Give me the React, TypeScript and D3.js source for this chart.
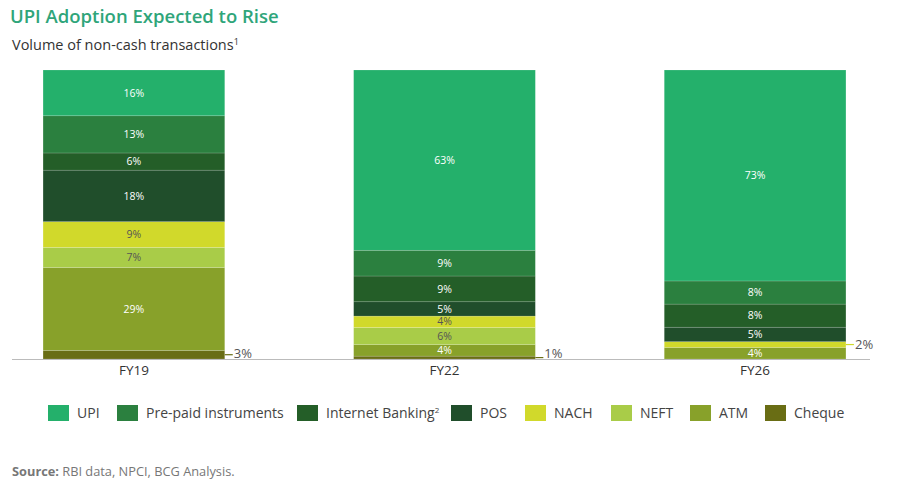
import * as d3 from 'd3';

const categories = ['FY19', 'FY22', 'FY26'];
const seriesNames = ['Cheque', 'ATM', 'NEFT', 'NACH', 'POS', 'Internet Banking', 'Pre-paid instruments', 'UPI'];
const cheque = [3, 1, 0];
const atm = [29, 4, 4];
const neft = [7, 6, 0];
const nach = [9, 4, 2];
const pos = [18, 5, 5];
const internetBanking = [6, 9, 8];
const prepaid = [13, 9, 8];
const upi = [16, 63, 73];

const legendOrder = ['UPI', 'Pre-paid instruments', 'Internet Banking', 'POS', 'NACH', 'NEFT', 'ATM', 'Cheque'];

const COLORS: Record<string, string> = {
  UPI: '#24b06b',
  'Pre-paid instruments': '#2b803f',
  'Internet Banking': '#245e28',
  POS: '#204e2b',
  NACH: '#d1d92b',
  NEFT: '#a9cc48',
  ATM: '#88a12a',
  Cheque: '#696d14',
};
const DARK_TEXT = new Set(['NACH', 'NEFT']);

const W = 900;
const H = 486;
const FONT = "'Open Sans', sans-serif";

export default function App() {
  const rows = categories.map((c, i) => ({
    cat: c,
    Cheque: cheque[i],
    ATM: atm[i],
    NEFT: neft[i],
    NACH: nach[i],
    POS: pos[i],
    'Internet Banking': internetBanking[i],
    'Pre-paid instruments': prepaid[i],
    UPI: upi[i],
  }));

  const stack = d3
    .stack<any>()
    .keys(seriesNames)
    .offset(d3.stackOffsetExpand);
  const layers = stack(rows);

  const x = d3
    .scaleBand()
    .domain(categories)
    .range([12, 877])
    .paddingInner(0.415)
    .paddingOuter(0.1);
  const y = d3.scaleLinear().domain([0, 1]).range([359, 70]);
  const bw = x.bandwidth();

  // legend layout (x of each swatch)
  const legendX = [48, 117, 297, 451, 525, 611, 690, 765];

  return (
    <div style={{ position: 'absolute', left: 0, top: 0 }}>
      <svg width={W} height={H} style={{ display: 'block', fontFamily: FONT }}>
        <rect width={W} height={H} fill='#fff' />
        <text x={10} y={23} fill='#2fa57a' fontSize={18.5} fontWeight={600}>
          UPI Adoption Expected to Rise
        </text>
        <text x={12} y={50} fill='#333' fontSize={14.5}>
          Volume of non-cash transactions
          <tspan fontSize={9} dy={-5}>1</tspan>
        </text>

        {/* stacked bars */}
        {layers.map((layer) => (
          <g key={layer.key}>
            {layer.map((d, i) => {
              const v = (d.data as any)[layer.key] as number;
              if (!v) return null;
              const x0 = x(categories[i])!;
              const top = y(d[1]);
              const bot = y(d[0]);
              const mid = (top + bot) / 2;
              const small = v < 4;
              return (
                <g key={i}>
                  <rect
                    x={x0}
                    y={top}
                    width={bw}
                    height={bot - top}
                    fill={COLORS[layer.key]}
                    stroke='rgba(255,255,255,0.25)'
                    strokeWidth={0.6}
                  />
                  {small ? (
                    <g>
                      <line
                        x1={x0 + bw}
                        x2={x0 + bw + 8}
                        y1={mid}
                        y2={mid}
                        stroke={COLORS[layer.key]}
                        strokeWidth={1.2}
                      />
                      <text
                        x={x0 + bw + 9}
                        y={Math.min(mid, 353)}
                        dy='0.35em'
                        fontSize={13}
                        fill='#555'
                      >
                        {v}%
                      </text>
                    </g>
                  ) : (
                    <text
                      x={x0 + bw / 2}
                      y={mid}
                      dy='0.35em'
                      textAnchor='middle'
                      fontSize={10.5}
                      fill={DARK_TEXT.has(layer.key) ? '#555' : '#fff'}
                    >
                      {v}%
                    </text>
                  )}
                </g>
              );
            })}
          </g>
        ))}

        {/* baseline */}
        <line x1={12} x2={870} y1={359.5} y2={359.5} stroke='#bbb' strokeWidth={1} />
        {categories.map((c) => (
          <text
            key={c}
            x={x(c)! + bw / 2}
            y={375}
            textAnchor='middle'
            fontSize={13.5}
            fill='#333'
          >
            {c}
          </text>
        ))}

        {/* legend */}
        {legendOrder.map((name, i) => (
          <g key={name} transform={`translate(${legendX[i]},405)`}>
            <rect width={21} height={16} fill={COLORS[name]} />
            <text x={29} y={8} dy='0.35em' fontSize={14} fill='#444'>
              {name}
              {name === 'Internet Banking' && (
                <tspan fontSize={8} dy={-5}>2</tspan>
              )}
            </text>
          </g>
        ))}

        <text x={12} y={476} fontSize={12.8} fill='#777'>
          <tspan fontWeight={700}>Source:</tspan> RBI data, NPCI, BCG Analysis.
        </text>
      </svg>
    </div>
  );
}
